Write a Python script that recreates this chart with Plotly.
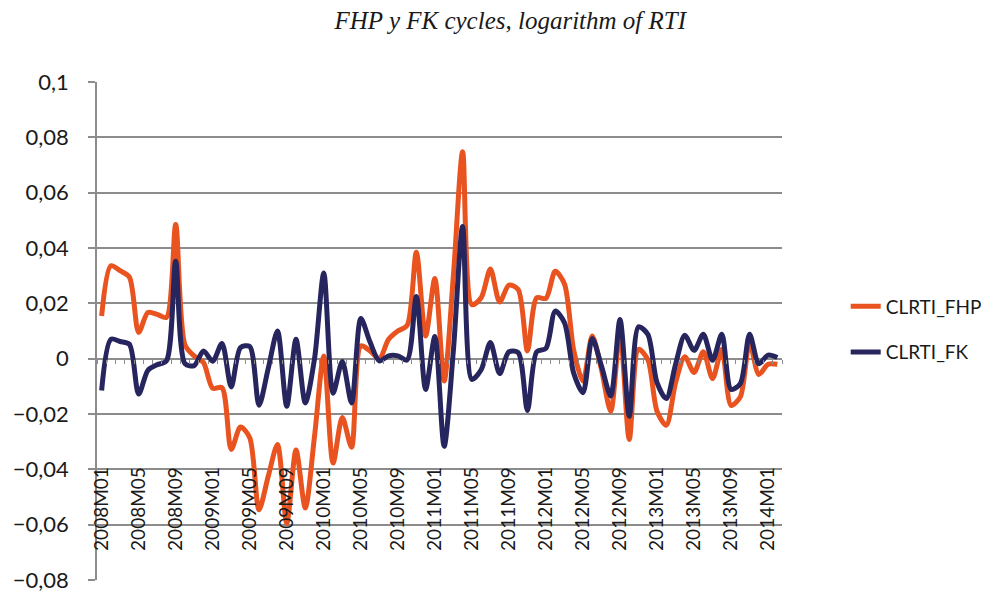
import plotly.graph_objects as go

# Monthly categories 2008M01 .. 2014M02
months = [f"{y}M{m:02d}" for y in range(2008, 2015) for m in range(1, 13)][:74]
tick_labels = months[::4]

clrti_fhp = [
    0.0154, 0.0336, 0.0318, 0.0295, 0.0095, 0.0167, 0.0160, 0.0149, 0.0485, 0.0050,
    0.0010, -0.0014, -0.0107, -0.0105, -0.0328, -0.0247, -0.0286, -0.0546, -0.0425, -0.0310,
    -0.0595, -0.0330, -0.0540, -0.0280, 0.0010, -0.0377, -0.0213, -0.0320, 0.0046, 0.0028,
    0.0000, 0.0070, 0.0100, 0.0120, 0.0385, 0.0082, 0.0290, -0.0081, 0.0300, 0.0748,
    0.0195, 0.0220, 0.0324, 0.0205, 0.0266, 0.0250, 0.0028, 0.0220, 0.0218, 0.0316,
    0.0270, 0.0030, -0.0081, 0.0082, -0.0040, -0.0190, 0.0095, -0.0292, 0.0034, -0.0003,
    -0.0190, -0.0241, -0.0087, 0.0007, -0.0050, 0.0025, -0.0072, 0.0034, -0.0169, -0.0138,
    0.0058, -0.0057, -0.0020, -0.0020,
]
clrti_fk = [
    -0.0115, 0.0070, 0.0062, 0.0052, -0.0128, -0.0042, -0.0022, -0.0008, 0.0352, -0.0018,
    -0.0025, 0.0028, -0.0009, 0.0055, -0.0102, 0.0040, 0.0044, -0.0168, -0.0035, 0.0100,
    -0.0172, 0.0070, -0.0160, 0.0000, 0.0310, -0.0125, -0.0010, -0.0160, 0.0145, 0.0060,
    -0.0008, 0.0010, 0.0010, -0.0005, 0.0225, -0.0111, 0.0080, -0.0317, 0.0030, 0.0478,
    -0.0075, -0.0040, 0.0058, -0.0054, 0.0025, 0.0022, -0.0187, 0.0025, 0.0037, 0.0172,
    0.0130, -0.0053, -0.0123, 0.0073, -0.0027, -0.0135, 0.0142, -0.0208, 0.0115, 0.0088,
    -0.0087, -0.0144, -0.0021, 0.0085, 0.0030, 0.0088, -0.0006, 0.0088, -0.0111, -0.0090,
    0.0088, -0.0018, 0.0013, 0.0004,
]

y_ticks = [0.1, 0.08, 0.06, 0.04, 0.02, 0, -0.02, -0.04, -0.06, -0.08]
y_ticktext = ["0,1", "0,08", "0,06", "0,04", "0,02", "0", "\u22120,02", "\u22120,04", "\u22120,06", "\u22120,08"]

Y_MIN, Y_MAX = -0.08, 0.1
GRID = "#8c8c8c"
FONT = "Lato"

fig = go.Figure()
fig.add_trace(go.Scatter(
    x=months, y=clrti_fhp, name="CLRTI_FHP", mode="lines",
    line=dict(color="#E9531F", width=5, shape="spline", smoothing=0.8),
    legendgroup="a",
))
fig.add_trace(go.Scatter(
    x=months, y=clrti_fk, name="CLRTI_FK", mode="lines",
    line=dict(color="#27255E", width=5, shape="spline", smoothing=0.8),
    legendgroup="b",
))
# helper trace (no visible marks) so the tick-mark axis on the zero line is drawn
fig.add_trace(go.Scatter(
    x=[0, len(months) - 1], y=[None, None], xaxis="x2", showlegend=False,
    hoverinfo="skip", mode="lines",
))

zero_pos = (0 - Y_MIN) / (Y_MAX - Y_MIN)
label_pos = (-0.04 - Y_MIN) / (Y_MAX - Y_MIN) + 0.014

fig.update_layout(
    width=987, height=595,
    margin=dict(l=97, r=205, t=82, b=15, autoexpand=False),
    paper_bgcolor="white", plot_bgcolor="white",
    title=dict(
        text="FHP y FK cycles, logarithm of RTI",
        x=0.517, xref="container", xanchor="center",
        y=1 - 20 / 595, yref="container", yanchor="middle",
        font=dict(family="Liberation Serif", size=25, color="#1a1a1a", style="italic"),
        automargin=False,
    ),
    xaxis=dict(
        type="category", range=[-0.5, len(months) - 0.5],
        tickmode="array", tickvals=tick_labels, ticktext=tick_labels,
        tickangle=-90, anchor="free", position=label_pos,
        showline=False, showgrid=False, ticks="", zeroline=False,
        tickfont=dict(family=FONT, size=19, color="#1a1a1a"),
        automargin=False,
    ),
    xaxis2=dict(
        overlaying="x", range=[-0.5, len(months) - 0.5],
        tickmode="linear", tick0=-0.5, dtick=1,
        anchor="free", position=zero_pos,
        showline=False, showgrid=False, zeroline=False,
        ticks="outside", ticklen=4, tickwidth=1, tickcolor=GRID,
        showticklabels=False, automargin=False,
    ),
    yaxis=dict(
        range=[Y_MIN, Y_MAX], tickmode="array", tickvals=y_ticks, ticktext=y_ticktext,
        showgrid=True, gridcolor=GRID, gridwidth=1.5,
        zeroline=False, showline=True, linecolor=GRID, linewidth=1.5,
        ticks="outside", ticklen=7, tickcolor=GRID, tickwidth=1.5,
        ticklabelstandoff=15,
        tickfont=dict(family=FONT, size=22, color="#1a1a1a"),
        automargin=False,
    ),
    legend=dict(
        x=1.093, xanchor="left", y=0.503, yanchor="middle",
        font=dict(family=FONT, size=19, color="#1a1a1a"),
        tracegroupgap=18, bgcolor="rgba(0,0,0,0)",
    ),
    showlegend=True,
)

fig.write_html(
    "out.html",
    config={"displayModeBar": False},
    post_script="document.body.style.margin='0';",
)
